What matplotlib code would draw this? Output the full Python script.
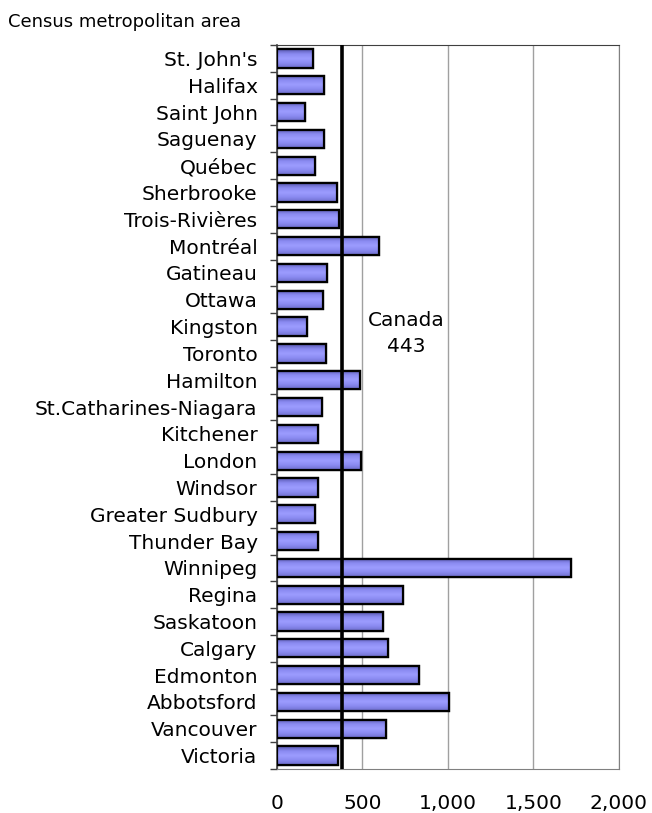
import numpy as np
import matplotlib
matplotlib.use("Agg")
import matplotlib.pyplot as plt
from matplotlib.colors import LinearSegmentedColormap

cities = ["St. John's", "Halifax", "Saint John", "Saguenay", "Québec", "Sherbrooke",
          "Trois-Rivières", "Montréal", "Gatineau", "Ottawa", "Kingston", "Toronto",
          "Hamilton", "St.Catharines-Niagara", "Kitchener", "London", "Windsor",
          "Greater Sudbury", "Thunder Bay", "Winnipeg", "Regina", "Saskatoon",
          "Calgary", "Edmonton", "Abbotsford", "Vancouver", "Victoria"]
values = [212, 273, 166, 273, 224, 354, 364, 598, 294, 271, 177, 284, 483, 261,
          238, 493, 238, 222, 238, 1721, 740, 623, 647, 833, 1009, 635, 355]
canada_line = 380
canada_label = "Canada\n443"
xticks = [0, 500, 1000, 1500, 2000]

plt.rcParams['font.family'] = ['DejaVu Sans']
fs = 14.5

fig = plt.figure(figsize=(6.52, 8.13), dpi=100)
ax = fig.add_axes([0.4248, 0.0541, 0.5245, 0.8905])

y = np.arange(len(cities))
bars = ax.barh(y, values, height=0.68, color='#8C8CFF', edgecolor='black',
               linewidth=1.6, zorder=3)

# shaded fill like the original bars (dark top, light middle)
shade = LinearSegmentedColormap.from_list(
    'shade', ['#5858B0', '#8A8AF0', '#9C9CFF', '#8A8AF0', '#6E6ECC'])
grad = np.linspace(0, 1, 64).reshape(-1, 1)
for b in bars:
    x0, y0 = b.get_x(), b.get_y()
    w, h = b.get_width(), b.get_height()
    im = ax.imshow(grad, cmap=shade, aspect='auto', zorder=3.5,
                   extent=(x0, x0 + w, y0 + h, y0), interpolation='bilinear')
    im.set_clip_path(b)
    ax.add_patch(plt.Rectangle((x0, y0), w, h, fill=False, edgecolor='black',
                               linewidth=1.6, zorder=3.6))

# Canada average line
ax.axvline(canada_line, color='black', linewidth=2.6, zorder=4)
ax.text(756, 10.25, canada_label, ha='center', va='center', fontsize=fs,
        linespacing=1.5, zorder=5)

ax.set_xlim(0, 2000)
ax.set_ylim(len(cities) - 0.5, -0.5)
ax.set_xticks(xticks)
ax.set_xticklabels([f"{v:,}" for v in xticks], fontsize=fs)
ax.tick_params(axis='x', length=0, pad=18)
ax.grid(axis='x', color='#A0A0A0', linewidth=1, zorder=0)

ax.set_yticks(y)
ax.set_yticklabels(cities, fontsize=fs)
ax.set_yticks(np.arange(len(cities) + 1) - 0.5, minor=True)
ax.tick_params(axis='y', which='major', length=0, pad=14)
ax.tick_params(axis='y', which='minor', length=5, width=1, color='#404040')

for side in ['top', 'right', 'bottom']:
    ax.spines[side].set_color('#808080')
ax.spines['top'].set_color('#404040')
ax.spines['left'].set_color('#404040')
ax.spines['left'].set_linewidth(1.2)

fig.text(8 / 652, 1 - 22 / 813, "Census metropolitan area", fontsize=13,
         ha='left', va='center')

fig.savefig("out.png", dpi=100)
